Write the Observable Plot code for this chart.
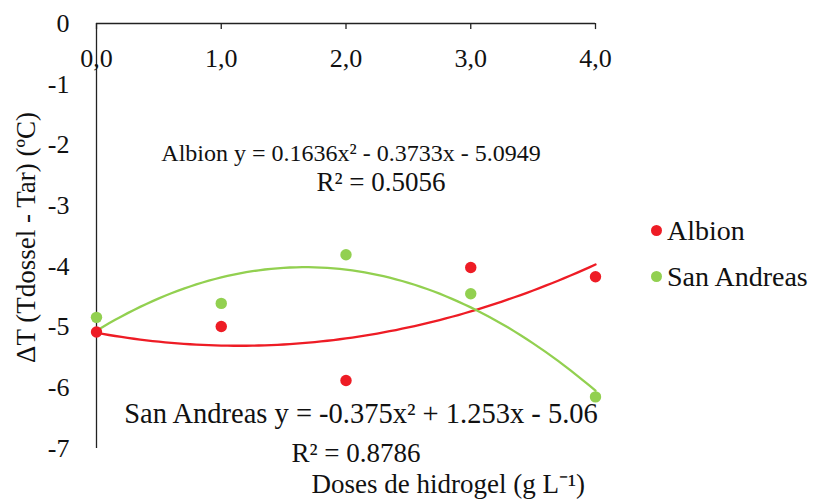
<!DOCTYPE html>
<html>
<head>
<meta charset="utf-8">
<script src="https://cdn.jsdelivr.net/npm/d3@7"></script>
<script src="https://cdn.jsdelivr.net/npm/@observablehq/plot@0.6"></script>
<style>
  html, body { margin: 0; padding: 0; background: #fff; }
  #wrap { position: relative; width: 821px; height: 500px; }
  .legend { position: absolute; left: 651px; top: 208px; font-size: 28px; color: #111; }
  .legend .row { height: 46px; line-height: 46px; white-space: nowrap; }
  .legend span.dot { display: inline-block; width: 11px; height: 11px; border-radius: 50%; margin-right: 5px; vertical-align: middle; position: relative; top: -3px; }
</style>
</head>
<body style="font-family:'Liberation Serif', serif">
<div id="wrap" style="font-family:'Liberation Serif', serif"></div>
<script>
// ---- data ----
const doses = [0, 1, 2, 3, 4];
const albion = [-5.08, -4.99, -5.88, -4.02, -4.17];
const sanAndreas = [-4.84, -4.61, -3.81, -4.45, -6.15];
const seriesNames = ["Albion", "San Andreas"];
const seriesColors = ["#ee1c25", "#92d050"];
// fitted quadratic coefficients shown on the chart [a, b, c] for y = a x^2 + b x + c
const albionFit = [0.1636, -0.3733, -5.0949];
const sanAndreasFit = [-0.375, 1.253, -5.06];
const xTicks = [0, 1, 2, 3, 4];
const xTickLabels = ["0,0", "1,0", "2,0", "3,0", "4,0"];
const yTicks = [0, -1, -2, -3, -4, -5, -6, -7];
const annotations = [
  {x: 2.04, y: -2.13, size: 24, text: "Albion y = 0.1636x² - 0.3733x - 5.0949"},
  {x: 2.28, y: -2.62, size: 27, text: "R² = 0.5056"},
  {x: 2.12, y: -6.43, size: 28.5, text: "San Andreas y = -0.375x² + 1.253x - 5.06"},
  {x: 2.08, y: -7.08, size: 27, text: "R² = 0.8786"},
  {x: 2.82, y: -7.59, size: 27, text: "Doses de hidrogel (g L⁻¹)"}
];
const yLabel = "ΔT (Tdossel - Tar) (ºC)";

const points = [];
doses.forEach((d, i) => {
  points.push({x: d, y: albion[i], s: seriesNames[0]});
  points.push({x: d, y: sanAndreas[i], s: seriesNames[1]});
});
const curve = [];
const fits = [albionFit, sanAndreasFit];
fits.forEach((f, k) => {
  d3.range(0, 4.0001, 0.05).forEach(x => curve.push({x, y: f[0]*x*x + f[1]*x + f[2], s: seriesNames[k]}));
});

const FONT = "Liberation Serif";
const chart = Plot.plot({
  width: 821,
  height: 500,
  marginLeft: 96,
  marginRight: 226,
  marginTop: 23,
  marginBottom: 52,
  style: {fontFamily: FONT, fontSize: "26px", color: "#111", background: "#fff", overflow: "visible"},
  x: {domain: [0, 4], axis: null},
  y: {domain: [-7, 0], axis: null},
  color: {domain: seriesNames, range: seriesColors},
  marks: [
    Plot.ruleY([0], {stroke: "#222", strokeWidth: 1.3}),
    Plot.ruleX([0], {y1: -7, y2: 0, stroke: "#222", strokeWidth: 1.3}),
    Plot.ruleX(xTicks, {x: d => d, y1: 0, y2: -0.1, stroke: "#222", strokeWidth: 1.3}),
    Plot.text(xTicks, {x: d => d, y: 0, dy: 35, text: (d, i) => xTickLabels[i], fontSize: 26, fill: "#111"}),
    Plot.text(yTicks, {x: 0, y: d => d, dx: -27, textAnchor: "end", text: d => d === 0 ? "0" : "-" + Math.abs(d), fontSize: 26, fill: "#111"}),
    Plot.line(curve, {x: "x", y: "y", z: "s", stroke: "s", strokeWidth: 2.3, curve: "linear"}),
    Plot.dot(points, {x: "x", y: "y", fill: "s", r: 5.7}),
    Plot.text(annotations, {x: "x", y: "y", text: "text", fontSize: "size", fill: "#111", clip: false}),
    Plot.text([yLabel], {frameAnchor: "left", textAnchor: "middle", dx: -70, dy: 1.5, rotate: -90, fontSize: 27, fill: "#111"})
  ]
});
const wrap = document.getElementById("wrap");
wrap.appendChild(chart);

const legend = document.createElement("div");
legend.className = "legend";
legend.setAttribute("style", "font-family:'Liberation Serif', serif");
legend.innerHTML = seriesNames.map((n, i) => `<div class="row"><span class="dot" style="background:${seriesColors[i]}"></span>${n}</div>`).join("");
wrap.appendChild(legend);
</script>
</body>
</html>
